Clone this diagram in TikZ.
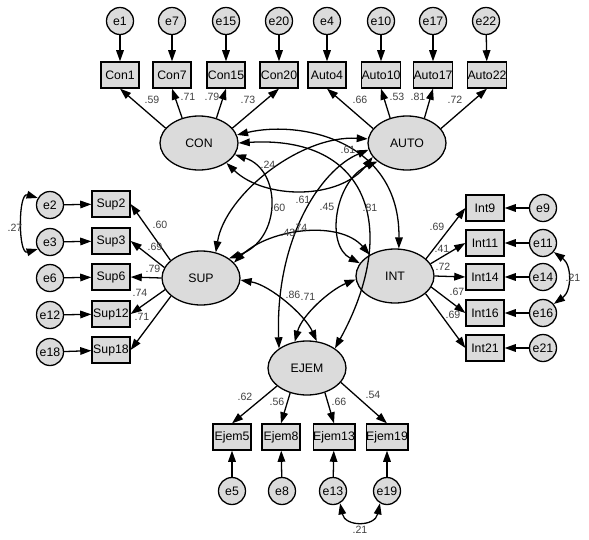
\documentclass[tikz,border=0pt]{standalone}
\usepackage{fontspec}
\setmainfont{Liberation Sans}
\usetikzlibrary{arrows.meta}
\usetikzlibrary{shapes.geometric}
\definecolor{amosgray}{gray}{0.86}

\begin{document}
\begin{tikzpicture}[x=0.3mm, y=-0.3mm, line width=1.1pt,
	latent/.style = {draw, ellipse, fill=amosgray, minimum width=23.4mm, minimum height=16.2mm, inner sep=0pt, font=\fontsize{10.5}{12}\selectfont},
	item/.style = {draw, rectangle, fill=amosgray, minimum width=11.4mm, minimum height=7.8mm, inner sep=0pt, font=\fontsize{10.5}{12}\selectfont},
	error/.style = {draw, circle, fill=amosgray, minimum size=8.1mm, inner sep=0pt, font=\fontsize{10.5}{12}\selectfont},
	coef/.style = {inner sep=0pt, text=black!75, font=\fontsize{9}{10}\selectfont},
	load/.style = {-{Triangle[length=9.5pt,width=6.5pt]}},
	cov/.style = {{Triangle[length=9.5pt,width=6.5pt]}-{Triangle[length=9.5pt,width=6.5pt]}}]
				\useasboundingbox (0,0) rectangle (589,540);
				\node[latent] (CON) at (199,143) {CON};
				\node[latent] (AUTO) at (407,143) {AUTO};
				\node[latent] (SUP) at (201,278) {SUP};
				\node[latent] (INT) at (395,276) {INT};
				\node[latent] (EJEM) at (307,368) {EJEM};
				\node[item] (Con1) at (120,75) {Con1};
				\node[item] (Con7) at (172,75) {Con7};
				\node[item] (Con15) at (226,75) {Con15};
				\node[item] (Con20) at (279,75) {Con20};
				\node[item] (Auto4) at (327,75) {Auto4};
				\node[item] (Auto10) at (381,75) {Auto10};
				\node[item] (Auto17) at (433,75) {Auto17};
				\node[item] (Auto22) at (487,75) {Auto22};
				\node[error] (e1) at (120,21) {e1};
				\node[error] (e7) at (172,21) {e7};
				\node[error] (e15) at (226,21) {e15};
				\node[error] (e20) at (279,21) {e20};
				\node[error] (e4) at (327,21) {e4};
				\node[error] (e10) at (381,21) {e10};
				\node[error] (e17) at (433,21) {e17};
				\node[error] (e22) at (486,21) {e22};
				\node[item] (Sup2) at (111,204) {Sup2};
				\node[item] (Sup3) at (111,241) {Sup3};
				\node[item] (Sup6) at (111,277) {Sup6};
				\node[item] (Sup12) at (111,314) {Sup12};
				\node[item] (Sup18) at (111,350) {Sup18};
				\node[error] (e2) at (50,205) {e2};
				\node[error] (e3) at (50,242) {e3};
				\node[error] (e6) at (50,278) {e6};
				\node[error] (e12) at (50,315) {e12};
				\node[error] (e18) at (50,352) {e18};
				\node[item] (Int9) at (485,208) {Int9};
				\node[item] (Int11) at (485,243) {Int11};
				\node[item] (Int14) at (485,277) {Int14};
				\node[item] (Int16) at (485,313) {Int16};
				\node[item] (Int21) at (485,348) {Int21};
				\node[error] (e9) at (543,208) {e9};
				\node[error] (e11) at (543,243) {e11};
				\node[error] (e14) at (543,277) {e14};
				\node[error] (e16) at (543,313) {e16};
				\node[error] (e21) at (543,348) {e21};
				\node[item] (Ejem5) at (232,437) {Ejem5};
				\node[item] (Ejem8) at (281,437) {Ejem8};
				\node[item] (Ejem13) at (334,437) {Ejem13};
				\node[item] (Ejem19) at (387,437) {Ejem19};
				\node[error] (e5) at (232,491) {e5};
				\node[error] (e8) at (282,491) {e8};
				\node[error] (e13) at (333,491) {e13};
				\node[error] (e19) at (387,491) {e19};
				\draw[load] (e1) -- (Con1);
				\draw[load] (e7) -- (Con7);
				\draw[load] (e15) -- (Con15);
				\draw[load] (e20) -- (Con20);
				\draw[load] (e4) -- (Auto4);
				\draw[load] (e10) -- (Auto10);
				\draw[load] (e17) -- (Auto17);
				\draw[load] (e22) -- (Auto22);
				\draw[load] (e2) -- (Sup2);
				\draw[load] (e3) -- (Sup3);
				\draw[load] (e6) -- (Sup6);
				\draw[load] (e12) -- (Sup12);
				\draw[load] (e18) -- (Sup18);
				\draw[load] (e9) -- (Int9);
				\draw[load] (e11) -- (Int11);
				\draw[load] (e14) -- (Int14);
				\draw[load] (e16) -- (Int16);
				\draw[load] (e21) -- (Int21);
				\draw[load] (e5) -- (Ejem5);
				\draw[load] (e8) -- (Ejem8);
				\draw[load] (e13) -- (Ejem13);
				\draw[load] (e19) -- (Ejem19);
				\draw[load] (CON.156) -- (Con1.south);
				\draw[load] (CON.124) -- (Con7.south);
				\draw[load] (CON.55) -- (Con15.south);
				\draw[load] (CON.24) -- (Con20.south);
				\draw[load] (AUTO.157) -- (Auto4.south);
				\draw[load] (AUTO.124) -- (Auto10.south);
				\draw[load] (AUTO.55) -- (Auto17.south);
				\draw[load] (AUTO.23) -- (Auto22.south);
				\draw[load] (SUP.150) -- (Sup2.east);
				\draw[load] (SUP.164) -- (Sup3.east);
				\draw[load] (SUP.180) -- (Sup6.east);
				\draw[load] (SUP.198) -- (Sup12.east);
				\draw[load] (SUP.211) -- (Sup18.east);
				\draw[load] (INT.29) -- (Int9.west);
				\draw[load] (INT.19) -- (Int11.west);
				\draw[load] (INT.0) -- (Int14.west);
				\draw[load] (INT.-17) -- (Int16.west);
				\draw[load] (INT.-30) -- (Int21.west);
				\draw[load] (EJEM.211) -- (Ejem5.north);
				\draw[load] (EJEM.236) -- (Ejem8.north);
				\draw[load] (EJEM.306) -- (Ejem13.north);
				\draw[load] (EJEM.337) -- (Ejem19.north);
				\draw[cov] (CON.12) .. controls (300,120) and (400,140) .. (INT.82);
				\draw[cov] (CON.0) .. controls (370,135) and (400,230) .. (EJEM.35);
				\draw[cov] (CON.-18) .. controls (282,170) and (282,240) .. (SUP.35);
				\draw[cov] (CON.-36) .. controls (265,200) and (340,200) .. (AUTO.202);
				\draw[cov] (AUTO.174) .. controls (300,135) and (225,195) .. (SUP.60);
				\draw[cov] (AUTO.190) .. controls (320,170) and (275,240) .. (EJEM.145);
				\draw[cov] (AUTO.212) .. controls (335,180) and (325,245) .. (INT.160);
				\draw[cov] (SUP.25) .. controls (270,228) and (340,220) .. (INT.140);
				\draw[cov] (SUP.-3) .. controls (270,285) and (305,315) .. (EJEM.70);
				\draw[cov] (INT.185) .. controls (330,290) and (302,315) .. (EJEM.115);
				\draw[cov] (e2.150) .. controls (18,192) and (18,255) .. (e3.210);
				\draw[cov] (e11.-40) .. controls (572,265) and (572,291) .. (e16.40);
				\draw[cov] (e13.-60) .. controls (345,527) and (375,527) .. (e19.-120);
				\node[coef] (cCon1) at (152,100) {.59};
				\node[coef] (cCon7) at (188,97) {.71};
				\node[coef] (cCon15) at (212,97) {.79};
				\node[coef] (cCon20) at (248,100) {.73};
				\node[coef] (cAuto4) at (360,100) {.66};
				\node[coef] (cAuto10) at (397,97) {.53};
				\node[coef] (cAuto17) at (418,97) {.81};
				\node[coef] (cAuto22) at (455,100) {.72};
				\node[coef] (cSup2) at (160,225) {.60};
				\node[coef] (cSup3) at (155,247) {.69};
				\node[coef] (cSup6) at (153,269) {.79};
				\node[coef] (cSup12) at (140,293) {.74};
				\node[coef] (cSup18) at (142,317) {.71};
				\node[coef] (cInt9) at (437,227) {.69};
				\node[coef] (cInt11) at (442,249) {.41};
				\node[coef] (cInt14) at (443,267) {.72};
				\node[coef] (cInt16) at (457,292) {.67};
				\node[coef] (cInt21) at (453,315) {.69};
				\node[coef] (cEjem5) at (245,397) {.62};
				\node[coef] (cEjem8) at (277,402) {.56};
				\node[coef] (cEjem13) at (339,402) {.66};
				\node[coef] (cEjem19) at (373,395) {.54};
				\node[coef] (cCONINT) at (348,150) {.61};
				\node[coef] (cCONEJEM) at (370,208) {.81};
				\node[coef] (cCONSUP) at (278,208) {.60};
				\node[coef] (cCONAUTO) at (303,200) {.61};
				\node[coef] (cAUTOSUP) at (268,165) {.24};
				\node[coef] (cAUTOEJEM) at (300,228) {.74};
				\node[coef] (cAUTOINT) at (327,207) {.45};
				\node[coef] (cSUPINT) at (288,233) {.43};
				\node[coef] (cSUPEJEM) at (293,295) {.86};
				\node[coef] (cINTEJEM) at (308,297) {.71};
				\node[coef] (ce2e3) at (15,228) {.27};
				\node[coef] (ce11e16) at (573,278) {.21};
				\node[coef] (ce13e19) at (360,530) {.21};
			\end{tikzpicture}
\end{document}
